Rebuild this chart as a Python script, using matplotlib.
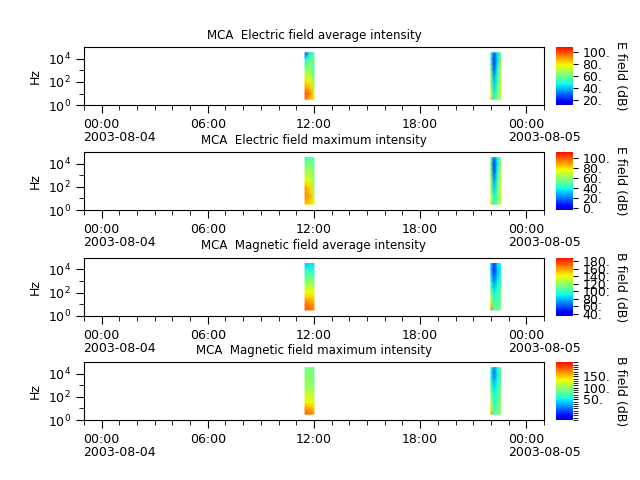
import datetime as dt
import numpy as np
import matplotlib
matplotlib.use('Agg')
import matplotlib.pyplot as plt
import matplotlib.dates as mdates
from matplotlib.colors import ListedColormap
from matplotlib.ticker import FixedLocator, FixedFormatter, FormatStrFormatter, MultipleLocator, NullFormatter
from matplotlib.transforms import ScaledTranslation

day0 = dt.datetime(2003, 8, 4)

# frequency rows (Hz), bottom to top
freqs = [3.2, 10, 32, 100, 320, 1000, 3200, 10000, 32000]
# time columns (hours after 2003-08-04 00:00) of the two bursts
hours_a = [11.5, 11.75, 12.0]
hours_b = [22.0, 22.18, 22.37, 22.55]

titles = ['MCA  Electric field average intensity',
          'MCA  Electric field maximum intensity',
          'MCA  Magnetic field average intensity',
          'MCA  Magnetic field maximum intensity']
cb_labels = ['E field (dB)', 'E field (dB)', 'B field (dB)', 'B field (dB)']
clims = [(11, 108), (-5, 112), (34, 189), (-40, 212)]

# dB values, rows = freqs (bottom to top), cols = time columns
e_avg_a = [[95, 85, 80], [98, 95, 75], [90, 85, 70], [82, 80, 65], [72, 72, 58],
           [65, 65, 55], [55, 62, 58], [45, 58, 58], [25, 45, 55]]
e_avg_b = [[85, 50, 62, 70], [75, 45, 58, 72], [68, 42, 55, 75], [65, 40, 52, 74], [62, 35, 50, 72],
           [60, 30, 48, 70], [55, 25, 45, 68], [50, 22, 42, 62], [55, 30, 45, 58]]
e_max_a = [[85, 80, 75], [90, 88, 70], [92, 85, 65], [88, 80, 60], [75, 72, 60],
           [68, 66, 55], [60, 62, 55], [55, 55, 52], [40, 50, 50]]
e_max_b = [[85, 40, 55, 68], [75, 38, 52, 70], [65, 35, 50, 70], [62, 30, 48, 72], [60, 25, 45, 70],
           [58, 18, 42, 68], [55, 12, 38, 66], [50, 10, 35, 62], [55, 20, 40, 60]]
b_avg_a = [[172, 170, 165], [168, 165, 160], [155, 152, 150], [140, 140, 138], [128, 130, 128],
           [115, 118, 115], [105, 108, 105], [95, 95, 92], [80, 85, 85]]
b_avg_b = [[165, 105, 108, 118], [150, 100, 105, 115], [130, 95, 100, 112], [115, 90, 98, 110],
           [105, 80, 92, 105], [95, 70, 88, 100], [85, 60, 82, 95], [80, 50, 80, 92], [85, 55, 85, 95]]
b_max_a = [[185, 178, 165], [165, 160, 150], [140, 135, 130], [125, 122, 118], [110, 110, 105],
           [100, 100, 98], [95, 95, 92], [90, 92, 88], [85, 88, 85]]
b_max_b = [[160, 70, 85, 100], [140, 65, 80, 100], [110, 60, 75, 95], [95, 55, 70, 95],
           [85, 50, 65, 90], [75, 40, 60, 88], [65, 25, 55, 85], [60, 10, 50, 80], [70, 20, 60, 80]]

panels = [(e_avg_a, e_avg_b), (e_max_a, e_max_b), (b_avg_a, b_avg_b), (b_max_a, b_max_b)]

plt.rcParams['font.size'] = 9

# jet without the dark ends
cmap = ListedColormap(plt.get_cmap('jet')(np.linspace(0.07, 0.9, 256)))

fig = plt.figure(figsize=(6.4, 4.8), dpi=100)
bottoms = [0.781, 0.5625, 0.342, 0.125]

def to_num(hours):
    return mdates.date2num([day0 + dt.timedelta(hours=h) for h in hours])

major_hours = [0, 6, 12, 18, 24]
major_labels = ['00:00\n2003-08-04', '06:00', '12:00', '18:00', '00:00\n2003-08-05']

for i in range(4):
    ax = fig.add_axes([0.131, bottoms[i], 0.719, 0.121])
    vmin, vmax = clims[i]
    for hrs, block in zip((hours_a, hours_b), panels[i]):
        mesh = ax.pcolormesh(to_num(hrs), freqs, np.array(block, float), shading='gouraud',
                             cmap=cmap, vmin=vmin, vmax=vmax)
    ax.set_yscale('log')
    ax.set_ylim(1, 1e5)
    ax.yaxis.set_major_locator(FixedLocator([1, 100, 1e4]))
    ax.yaxis.set_minor_locator(FixedLocator([10, 1000]))
    ax.yaxis.set_minor_formatter(NullFormatter())
    ax.set_ylabel('Hz')
    ax.set_xlim(to_num([-1, 25]))
    ax.xaxis.set_major_locator(FixedLocator(to_num(major_hours)))
    ax.xaxis.set_major_formatter(FixedFormatter(major_labels))
    ax.xaxis.set_minor_locator(FixedLocator(to_num(range(-1, 26))))
    ax.tick_params(which='major', length=6)
    ax.tick_params(which='minor', length=3.5)
    ax.set_title(titles[i], fontsize=8.5)
    for lab in ax.get_xticklabels():
        lab.set_multialignment('left')
        lab.set_linespacing(0.95)

    cax = fig.add_axes([0.869, bottoms[i], 0.026, 0.121])
    cb = fig.colorbar(mesh, cax=cax)
    cb.formatter = FormatStrFormatter('%d.')
    if i == 3:
        cb.locator = FixedLocator([50, 100, 150])
        cb.update_ticks()
        cb.ax.yaxis.set_minor_locator(MultipleLocator(10))
    else:
        cb.locator = MultipleLocator(20)
        cb.update_ticks()
    cb.outline.set_visible(False)
    cb.ax.tick_params(which='both', length=3.5)
    cb.set_label(cb_labels[i], rotation=270, labelpad=12)

fig.canvas.draw()
shift = ScaledTranslation(0.177, 0, fig.dpi_scale_trans)
for ax in fig.axes[::2]:
    ticks = ax.xaxis.get_major_ticks()
    for k in (0, len(ticks) - 1):
        ticks[k].label1.set_transform(ticks[k].label1.get_transform() + shift)

fig.savefig('out.png', dpi=100)
